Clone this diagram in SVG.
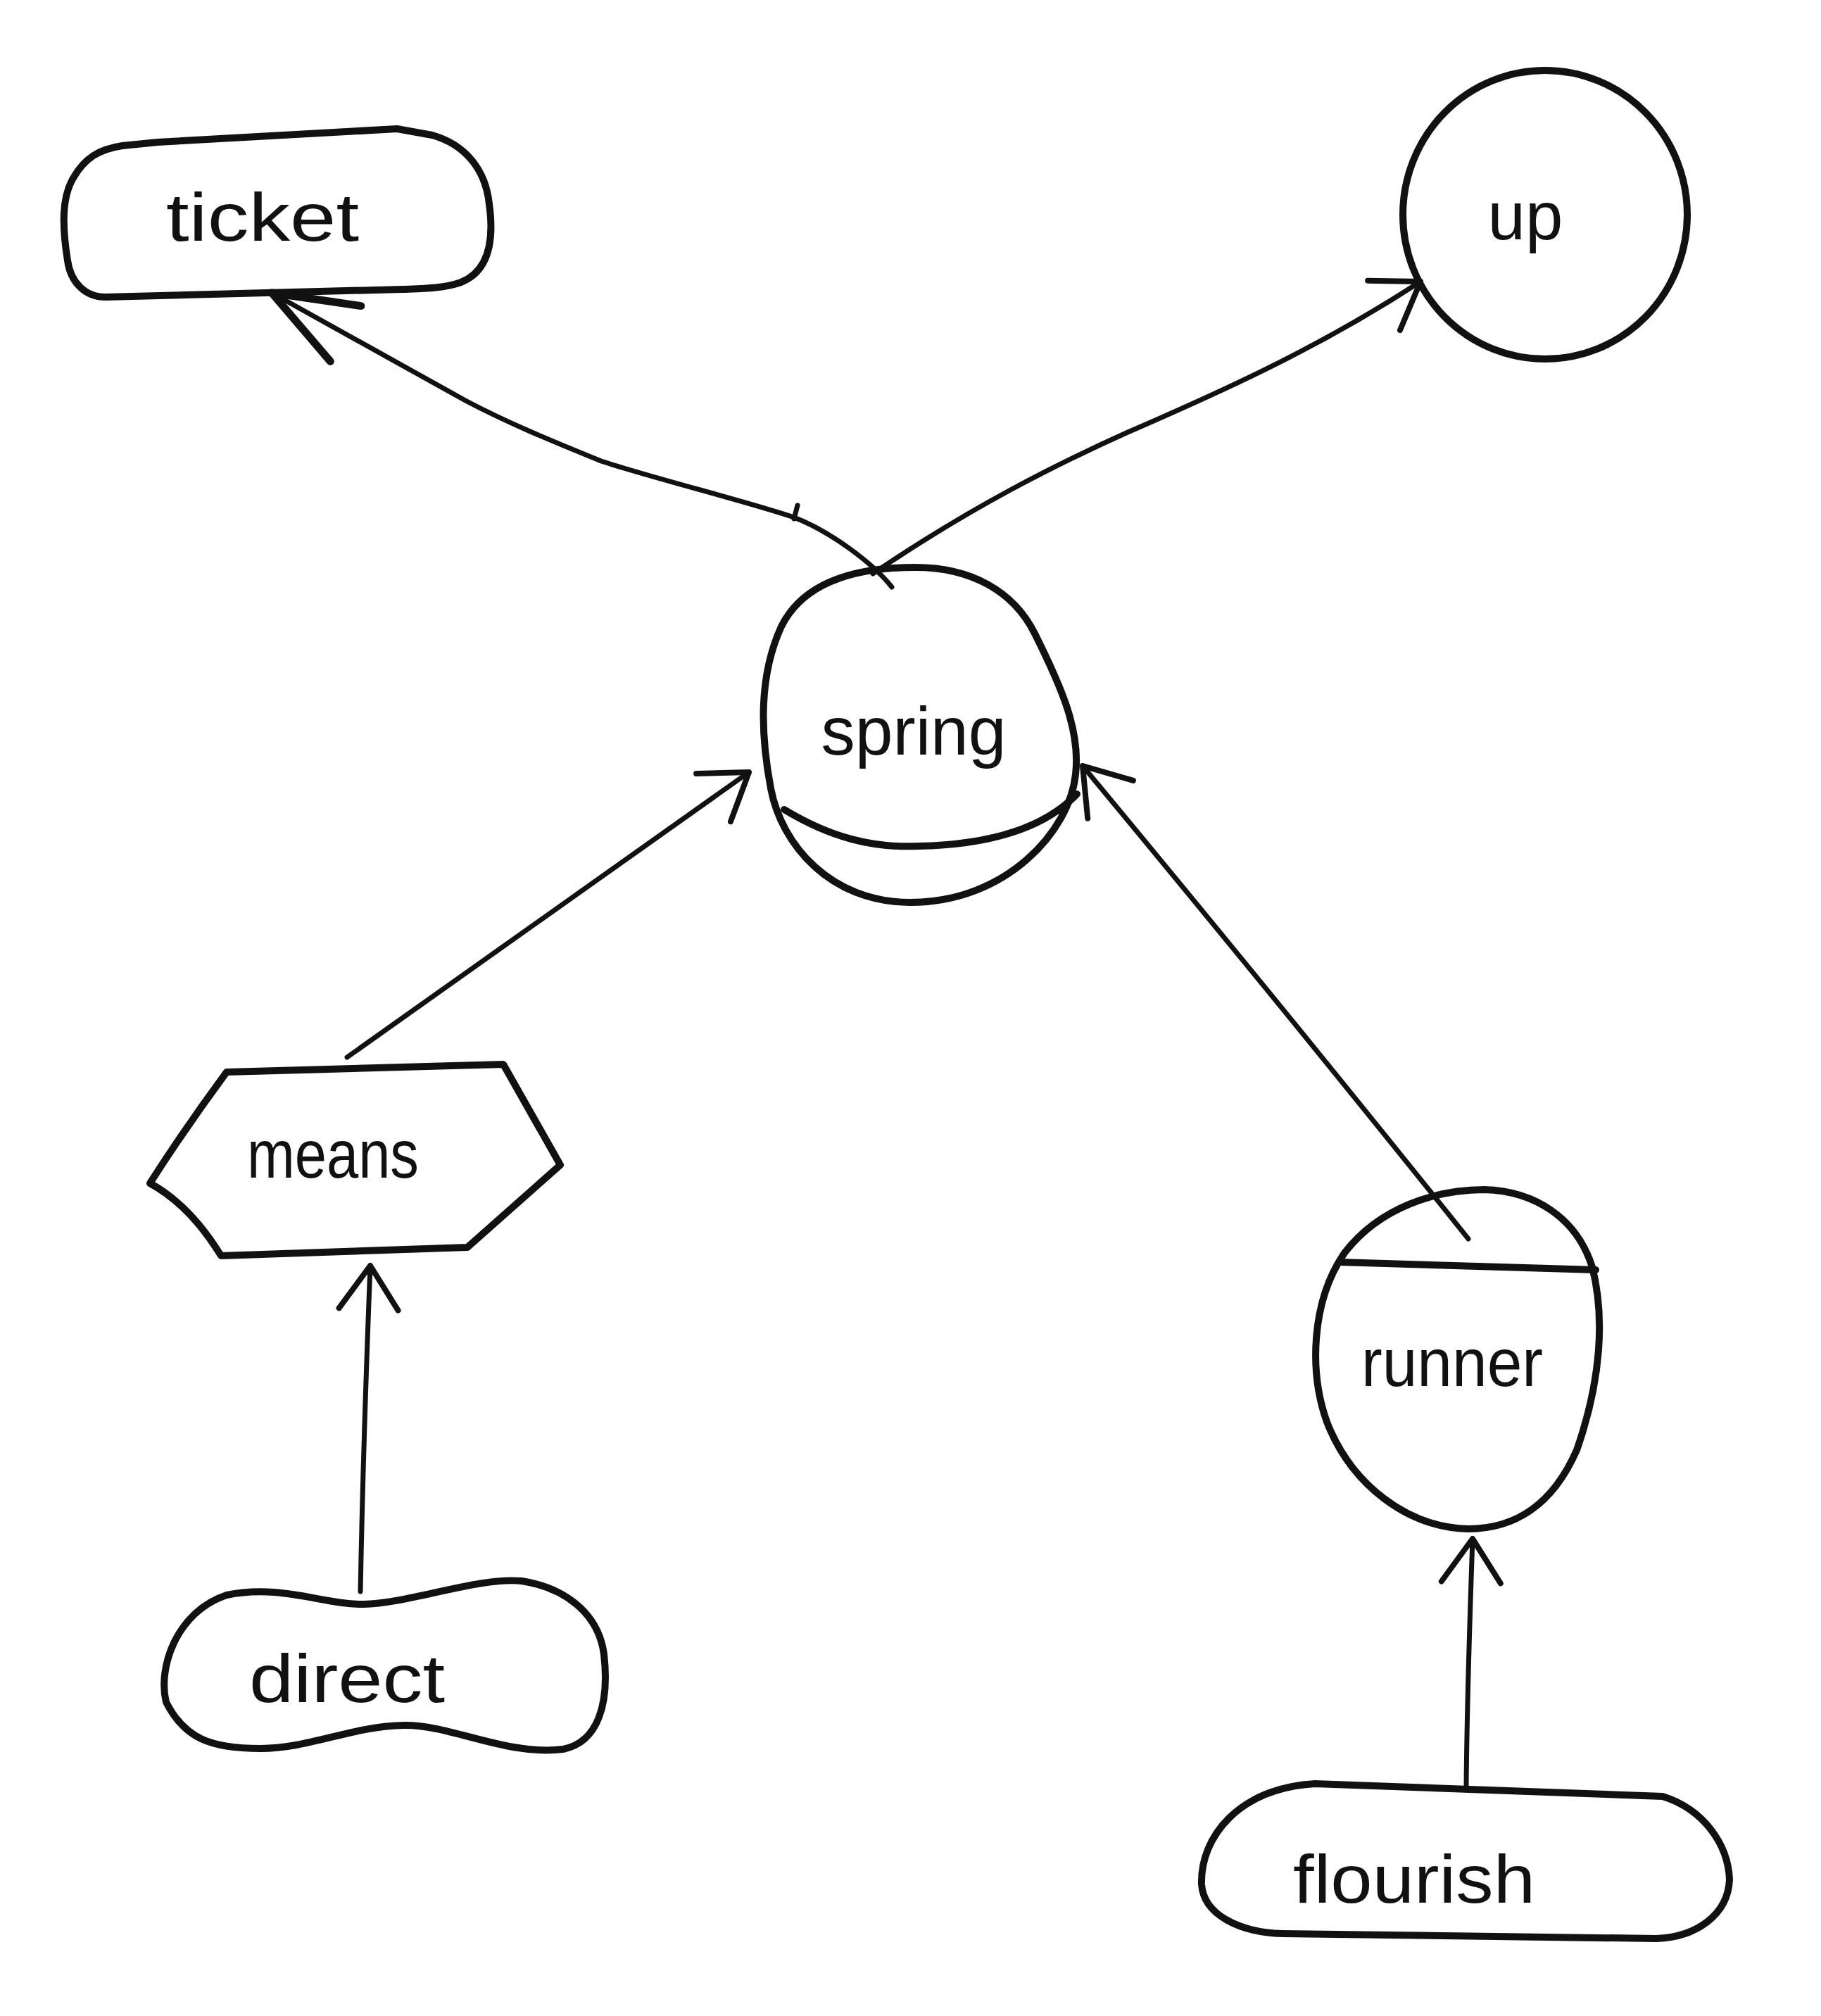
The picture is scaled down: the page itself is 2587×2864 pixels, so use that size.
<svg xmlns="http://www.w3.org/2000/svg" width="2587" height="2864" viewBox="0 0 2587 2864">
  <style>
    .shape { fill: none; stroke: #111; stroke-width: 10; stroke-linejoin: round; stroke-linecap: round; }
    .edge { fill: none; stroke: #111; stroke-width: 7; stroke-linecap: round; stroke-linejoin: round; }
    .label { font-family: "Liberation Sans", "DejaVu Sans", sans-serif; font-size: 96px; fill: #111; text-anchor: middle; }
  </style>
  <defs>
    <marker id="arrow" markerUnits="userSpaceOnUse" markerWidth="110" markerHeight="110" viewBox="-100 -55 110 110" refX="0" refY="0" orient="auto">
      <path d="M-62,-42 L0,0 L-62,42" fill="none" stroke="#111" stroke-width="8" stroke-linecap="round" stroke-linejoin="round"/>
    </marker>
    <marker id="arrow-lg" markerUnits="userSpaceOnUse" markerWidth="160" markerHeight="160" viewBox="-150 -80 160 160" refX="0" refY="0" orient="auto">
      <path d="M-120,-45 L0,0 L-120,45" fill="none" stroke="#111" stroke-width="11" stroke-linecap="round" stroke-linejoin="round"/>
    </marker>
  </defs>
  <rect width="2587" height="2864" fill="#fff"/>

  <g id="connectors">
    <!-- spring -> ticket -->
    <path class="edge" marker-end="url(#arrow-lg)" d="M 1267,834 C 1240,800 1180,755 1128,735 C 1060,712 930,680 854,655 C 780,625 720,600 663,570 C 590,530 520,490 386,416"/>
    <path class="edge" d="M 1128,737 L 1133,718"/>
    <!-- spring -> up -->
    <path class="edge" marker-end="url(#arrow)" d="M 1240,815 C 1380,720 1500,660 1600,615 C 1750,550 1880,490 2018,400"/>
    <!-- means -> spring -->
    <path class="edge" marker-end="url(#arrow)" d="M 493,1502 Q 780,1300 1064,1097"/>
    <!-- runner -> spring -->
    <path class="edge" marker-end="url(#arrow)" d="M 2086,1760 Q 1830,1440 1538,1088"/>
    <!-- direct -> means -->
    <path class="edge" marker-end="url(#arrow)" d="M 512,2261 C 515,2100 520,1950 526,1798"/>
    <!-- flourish -> runner -->
    <path class="edge" marker-end="url(#arrow)" d="M 2083,2538 C 2084,2420 2088,2300 2092,2186"/>
  </g>

  <g id="node-ticket">
    <path class="shape" d="M 224,202 L 564,183 L 614,192 C 660,205 690,240 695,290 C 702,340 695,385 655,401 C 630,410 600,410 572,411 L 150,422 C 120,422 100,400 96,370 C 88,320 88,280 104,253 C 120,225 140,212 174,207 Z"/>
    <text class="label" x="373" y="342" textLength="274" lengthAdjust="spacingAndGlyphs">ticket</text>
  </g>

  <g id="node-up">
    <ellipse class="shape" cx="2195" cy="305" rx="202" ry="205"/>
    <text class="label" x="2167" y="340">up</text>
  </g>

  <g id="node-spring">
    <path class="shape" d="M 1300,806 C 1380,806 1440,840 1470,900 C 1510,980 1535,1040 1528,1100 C 1520,1180 1430,1282 1293,1282 C 1180,1282 1110,1200 1095,1120 C 1080,1040 1078,960 1110,890 C 1140,830 1210,806 1300,806 Z"/>
    <path class="shape" d="M 1114,1150 C 1180,1190 1240,1205 1305,1202 C 1400,1200 1480,1180 1530,1128"/>
    <text class="label" x="1298" y="1072" textLength="263" lengthAdjust="spacingAndGlyphs">spring</text>
  </g>

  <g id="node-means">
    <path class="shape" d="M 322,1523 L 715,1512 L 796,1655 L 664,1772 L 314,1784 Q 270,1712 213,1681 Q 265,1600 322,1523 Z"/>
    <text class="label" x="473" y="1673" textLength="244" lengthAdjust="spacingAndGlyphs">means</text>
  </g>

  <g id="node-direct">
    <path class="shape" d="M 236,2418 C 224,2370 250,2290 322,2266 C 400,2250 460,2280 517,2279 C 580,2278 680,2240 741,2246 C 800,2255 850,2290 858,2350 C 866,2420 850,2475 800,2485 C 720,2495 640,2450 575,2451 C 500,2452 440,2484 370,2484 C 300,2484 262,2470 236,2418 Z"/>
    <text class="label" x="493" y="2418" textLength="278" lengthAdjust="spacingAndGlyphs">direct</text>
  </g>

  <g id="node-runner">
    <path class="shape" d="M 2109,1690 C 2180,1692 2240,1730 2262,1800 C 2280,1870 2275,1960 2240,2060 C 2205,2140 2150,2172 2086,2172 C 2000,2170 1920,2110 1885,2020 C 1860,1950 1862,1850 1910,1780 C 1960,1715 2040,1690 2109,1690 Z"/>
    <path class="shape" d="M 1903,1793 L 2267,1804"/>
    <text class="label" x="2063" y="1969" textLength="258" lengthAdjust="spacingAndGlyphs">runner</text>
  </g>

  <g id="node-flourish">
    <path class="shape" d="M 1868,2534 L 2362,2552 C 2420,2570 2455,2620 2457,2670 C 2455,2720 2410,2752 2353,2754 L 1822,2747 C 1760,2745 1710,2720 1707,2677 C 1705,2610 1760,2540 1868,2534 Z"/>
    <text class="label" x="2009" y="2703" textLength="344" lengthAdjust="spacingAndGlyphs">flourish</text>
  </g>
</svg>
